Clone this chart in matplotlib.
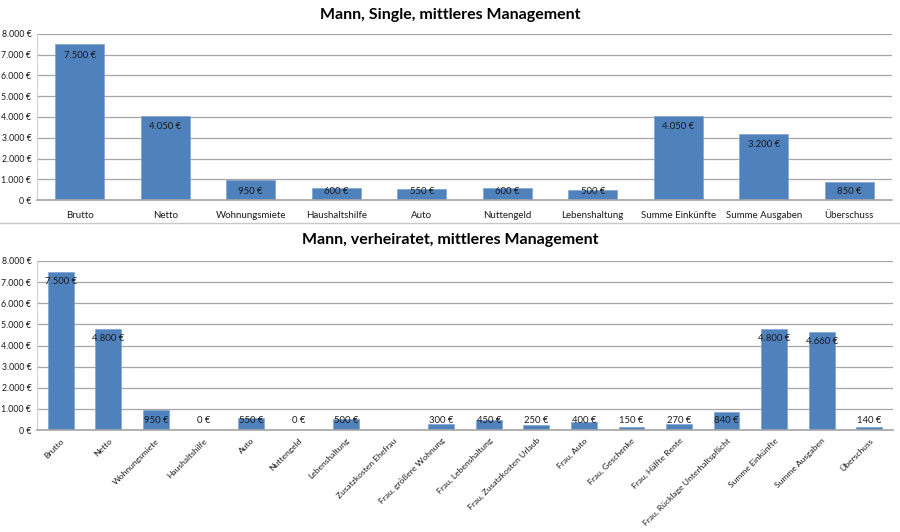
import matplotlib
matplotlib.use("Agg")
import matplotlib.pyplot as plt
import numpy as np
from matplotlib.ticker import FuncFormatter

plt.rcParams['font.family'] = ['Lato', 'DejaVu Sans']

title1 = "Mann, Single, mittleres Management"
cats1 = ["Brutto", "Netto", "Wohnungsmiete", "Haushaltshilfe", "Auto", "Nuttengeld",
         "Lebenshaltung", "Summe Einkünfte", "Summe Ausgaben", "Überschuss"]
vals1 = [7500, 4050, 950, 600, 550, 600, 500, 4050, 3200, 850]

title2 = "Mann, verheiratet, mittleres Management"
cats2 = ["Brutto", "Netto", "Wohnungsmiete", "Haushaltshilfe", "Auto", "Nuttengeld",
         "Lebenshaltung", "Zusatzkosten Ehefrau", "Frau, größere Wohnung",
         "Frau, Lebenshaltung", "Frau, Zusatzkosten Urlaub", "Frau, Auto",
         "Frau, Geschenke", "Frau, Hälfte Rente", "Frau, Rücklage Unterhaltspflicht",
         "Summe Einkünfte", "Summe Ausgaben", "Überschuss"]
vals2 = [7500, 4800, 950, 0, 550, 0, 500, None, 300, 450, 250, 400, 150, 270, 840,
         4800, 4660, 140]

yticks = [0, 1000, 2000, 3000, 4000, 5000, 6000, 7000, 8000]

BAR = "#4F81BD"
GRID = "#A6A6A6"
TXT = "#1A1A1A"

def eur(v):
    return f"{int(v):,}".replace(",", ".") + " €"

fig = plt.figure(figsize=(9, 5.32), dpi=100)
W, H = 900, 532

def make_axes(left, top, right, bottom):
    return fig.add_axes([left / W, (H - bottom) / H, (right - left) / W, (bottom - top) / H])

def style(ax):
    ax.set_ylim(0, 8000)
    ax.set_yticks(yticks)
    ax.yaxis.set_major_formatter(FuncFormatter(lambda v, p: eur(v)))
    ax.grid(axis='y', color=GRID, linewidth=0.9)
    ax.set_axisbelow(True)
    for s in ['top', 'right']:
        ax.spines[s].set_visible(False)
    ax.spines['left'].set_color("#D0D0D0")
    ax.spines['bottom'].set_color(GRID)
    ax.spines['bottom'].set_linewidth(1.2)
    ax.tick_params(axis='y', length=0, labelsize=6.3, colors=TXT, pad=4)
    ax.tick_params(axis='x', length=0, labelsize=7, colors=TXT, pad=8)

# Top chart
ax1 = make_axes(37, 34, 892, 200)
x1 = np.arange(len(cats1))
ax1.bar(x1, vals1, width=0.57, color=BAR, edgecolor="#7FA3D0", linewidth=0.5)
ax1.set_xlim(-0.5, len(cats1) - 0.5)
ax1.set_xticks(x1)
ax1.set_xticklabels(cats1)
style(ax1)
for xi, v in zip(x1, vals1):
    ax1.text(xi, max(v - 520, 430), eur(v), ha='center', va='center', fontsize=6.8, color=TXT)
fig.text(0.5, (H - 15) / H, title1, ha='center', va='center', fontsize=11.5, fontweight='bold', color="#000000")

# separator
fig.add_artist(plt.Line2D([0, 1], [(H - 223) / H] * 2, color="#C8C8C8", linewidth=1))

# Bottom chart
ax2 = make_axes(37, 261, 893, 430)
x2 = np.arange(len(cats2))
v2 = np.array([np.nan if v is None else v for v in vals2], dtype=float)
ax2.bar(x2, np.nan_to_num(v2), width=0.54, color=BAR, edgecolor="#7FA3D0", linewidth=0.5)
ax2.set_xlim(-0.5, len(cats2) - 0.5)
ax2.set_xticks(x2)
ax2.set_xticklabels(cats2, rotation=45, ha='right', rotation_mode='anchor')
style(ax2)
ax2.tick_params(axis='x', pad=5, labelsize=6.1)
for xi, v in zip(x2, vals2):
    if v is None:
        continue
    ax2.text(xi, max(v - 490, 450), eur(v), ha='center', va='center', fontsize=6.8, color=TXT)
fig.text(0.5, (H - 240) / H, title2, ha='center', va='center', fontsize=11.5, fontweight='bold', color="#000000")

fig.savefig("out.png", dpi=100)
